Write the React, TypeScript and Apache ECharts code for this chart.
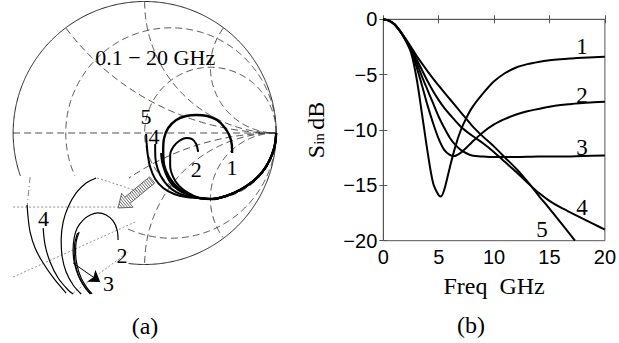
import React, { useEffect, useRef } from "react";
import * as echarts from "echarts";

// ---------------- (b) |S_in| (dB) versus frequency (GHz) ----------------
const curve1 = [[0,0],[0.5,-0.12],[1,-0.45],[1.5,-1.05],[2,-1.9],[2.5,-3.0],[3,-5.3],[3.5,-8.6],[4,-12.0],[4.5,-14.8],[5,-15.9],[5.2,-16.0],[5.5,-15.4],[6,-13.4],[6.5,-11.5],[7,-10.0],[7.5,-8.9],[8,-8.0],[9,-6.7],[10,-5.6],[11,-4.85],[12,-4.35],[13,-4.05],[14,-3.85],[15,-3.7],[16,-3.6],[17,-3.53],[18,-3.47],[19,-3.42],[20,-3.38]];
const curve2 = [[0,0],[0.5,-0.12],[1,-0.45],[1.5,-1.05],[2,-1.85],[2.5,-2.8],[3,-4.3],[3.5,-6.0],[4,-7.8],[4.5,-9.4],[5,-10.8],[5.5,-11.8],[6,-12.25],[6.4,-12.35],[7,-12.05],[7.5,-11.6],[8,-11.1],[9,-10.2],[10,-9.5],[11,-9.0],[12,-8.6],[13,-8.3],[14,-8.1],[15,-7.9],[16,-7.75],[17,-7.65],[18,-7.55],[19,-7.5],[20,-7.45]];
const curve3 = [[0,0],[0.5,-0.12],[1,-0.45],[1.5,-1.05],[2,-1.8],[2.5,-2.7],[3,-3.9],[3.5,-5.2],[4,-6.4],[4.5,-7.6],[5,-8.8],[5.5,-9.8],[6,-10.7],[6.5,-11.35],[7,-11.8],[7.5,-12.1],[8,-12.3],[9,-12.4],[10,-12.45],[12,-12.45],[14,-12.4],[16,-12.4],[18,-12.35],[20,-12.3]];
const curve4 = [[0,0],[0.5,-0.12],[1,-0.45],[1.5,-1.05],[2,-1.78],[2.5,-2.6],[3,-3.6],[3.5,-4.6],[4,-5.6],[4.5,-6.5],[5,-7.3],[5.5,-8.0],[6,-8.6],[7,-9.7],[8,-10.5],[9,-11.2],[10,-12.0],[11,-12.9],[12,-13.8],[13,-14.75],[14,-15.65],[15,-16.4],[16,-17.0],[17,-17.5],[18,-18.0],[19,-18.5],[20,-19.0]];
const curve5 = [[0,0],[0.5,-0.12],[1,-0.45],[1.5,-1.05],[2,-1.75],[2.5,-2.5],[3,-3.3],[3.5,-4.0],[4,-4.7],[5,-6.0],[6,-7.2],[7,-8.4],[8,-9.6],[9,-10.6],[10,-11.5],[11,-12.5],[12,-13.5],[13,-14.65],[14,-15.9],[15,-17.1],[16,-18.35],[17,-19.6],[17.3,-20.0]];
const dbCurves = [curve1, curve2, curve3, curve4, curve5];
const dbLabelText = ["1", "2", "3", "4", "5"];
const dbLabelPos = [[17.93,-2.5],[17.93,-6.84],[17.93,-11.54],[17.93,-16.96],[14.32,-18.95]];
const freqTicks = [0, 5, 10, 15, 20];
const dbTicks = [-20, -15, -10, -5, 0];

// ---------------- (a) Smith chart, reflection coefficient (Re, Im) ----------------
const smithStart = [[1.0,0],[0.996,-0.053],[0.985,-0.114],[0.951,-0.205],[0.894,-0.297],[0.817,-0.373],[0.726,-0.433],[0.62,-0.479],[0.513,-0.502],[0.414,-0.494]];
const smith1 = [[0.323,-0.464],[0.247,-0.411],[0.186,-0.335],[0.148,-0.243],[0.141,-0.129],[0.148,-0.038],[0.179,0.038],[0.24,0.099],[0.316,0.129],[0.392,0.137],[0.475,0.129],[0.551,0.099],[0.605,0.046],[0.643,-0.015],[0.662,-0.084],[0.665,-0.152]];
const smith2 = [[0.331,-0.456],[0.262,-0.403],[0.217,-0.335],[0.194,-0.251],[0.194,-0.167],[0.217,-0.106],[0.262,-0.061],[0.316,-0.038],[0.361,-0.046],[0.392,-0.084],[0.407,-0.144]];
const smith3 = [[0.331,-0.471],[0.255,-0.433],[0.194,-0.373],[0.156,-0.297],[0.133,-0.221],[0.125,-0.152]];
const smith4 = [[0.323,-0.479],[0.24,-0.449],[0.171,-0.395],[0.118,-0.319],[0.087,-0.228],[0.08,-0.144],[0.08,-0.084]];
const smith5 = [[0.316,-0.487],[0.224,-0.464],[0.141,-0.418],[0.08,-0.35],[0.042,-0.259],[0.023,-0.16],[0.015,-0.076],[0.011,-0.008]];
const smithTails = [smith1, smith2, smith3, smith4, smith5];
const smithWidths = [2.4, 2, 2, 2, 2];

// zoomed inset (drawn in the lower left)
const insetA = [[-0.894,-0.548],[-0.886,-0.646],[-0.871,-0.753],[-0.833,-0.875],[-0.772,-0.989],[-0.688,-1.11],[-0.597,-1.217]];
const insetB = [[-0.772,-0.722],[-0.757,-0.852],[-0.719,-0.981],[-0.658,-1.103],[-0.582,-1.194],[-0.544,-1.224]];
const insetC = [[-0.369,-0.342],[-0.445,-0.38],[-0.521,-0.456],[-0.582,-0.563],[-0.62,-0.677],[-0.635,-0.814],[-0.627,-0.943],[-0.597,-1.057],[-0.544,-1.156],[-0.483,-1.224]];
const insetD = [[-0.202,-0.814],[-0.209,-0.738],[-0.24,-0.669],[-0.293,-0.624],[-0.354,-0.608],[-0.414,-0.624],[-0.468,-0.662],[-0.513,-0.722],[-0.536,-0.798],[-0.544,-0.89],[-0.536,-0.981],[-0.506,-1.08],[-0.46,-1.163],[-0.414,-1.224]];
const insetE = [[-0.498,-0.753],[-0.521,-0.829],[-0.525,-0.92],[-0.513,-1.011],[-0.483,-1.103],[-0.437,-1.179],[-0.399,-1.224]];
const insetF = [[-0.51,-0.76],[-0.531,-0.835],[-0.535,-0.922],[-0.524,-1.012],[-0.494,-1.106],[-0.449,-1.181],[-0.41,-1.224]];
const insetCurves = [insetA, insetB, insetC, insetD, insetE, insetF];
const insetArrow = [[-0.544,-0.989],[-0.338,-1.133]];
const insetGuides = [
  [[-1.0,-0.563],[-0.202,-0.563]],
  [[-1.0,-1.095],[-0.072,-0.677]],
  [[-0.544,-1.217],[-0.125,-0.905]],
  [[-0.361,-0.342],[-0.034,-0.449]],
];
const insetDashDot = [[-0.871,-0.335],[-0.894,-0.563]];
const zoomArrow = [0.057, -0.357, -0.202, -0.57]; // tail (re, im), tip (re, im)

const smithLabelText = ["5", "4", "2", "1", "4", "2", "3"];
const smithLabelPos = [[0.011,0.122],[0.072,-0.023],[0.392,-0.274],[0.665,-0.266],[-0.77,-0.649],[-0.173,-0.928],[-0.275,-1.143]];
const smithTitle = "0.1 − 20 GHz";
const smithTitlePos = [0.08, 0.574];

const rCircles = [0.25, 1];
const xArcs = [0.5, 1, 2, -0.5, -1, -2];
const MASK_RE = -0.13;
const MASK_IM = -0.33;

const SERIF = "Liberation Serif";
const SANS = "Liberation Sans";

function circlePts(cx: number, cy: number, r: number, n = 720) {
  const pts: number[][] = [];
  for (let i = 0; i <= n; i++) {
    const a = (2 * Math.PI * i) / n;
    pts.push([cx + r * Math.cos(a), cy + r * Math.sin(a)]);
  }
  return pts;
}
function visible(p: number[]) {
  return p[0] * p[0] + p[1] * p[1] <= 1.0004 && !(p[0] < MASK_RE && p[1] < MASK_IM);
}
function splitVisible(pts: number[][]) {
  const segs: number[][][] = [];
  let cur: number[][] = [];
  for (const p of pts) {
    if (visible(p)) cur.push(p);
    else {
      if (cur.length > 1) segs.push(cur);
      cur = [];
    }
  }
  if (cur.length > 1) segs.push(cur);
  return segs;
}

const minus = (v: number) => (v < 0 ? "\u2212" + Math.abs(v) : String(v));

export default function App() {
  const ref = useRef<HTMLDivElement>(null);
  useEffect(() => {
    document.body.style.margin = "0";
    if (!ref.current) return;
    const chart = echarts.init(ref.current, undefined, { renderer: "svg" });

    const series: any[] = [];
    const gridLine = (data: number[][], style: any) =>
      series.push({
        type: "line", xAxisIndex: 0, yAxisIndex: 0, data, symbol: "none", silent: true,
        lineStyle: style, z: 1,
      });

    // Smith chart grid
    splitVisible(circlePts(0, 0, 1)).forEach((s) => gridLine(s, { color: "#222", width: 1, type: "solid" }));
    const dash = { color: "#3a3a3a", width: 0.9, type: [7, 4] };
    gridLine([[-1, 0], [1, 0]], dash);
    rCircles.forEach((r) => splitVisible(circlePts(r / (1 + r), 0, 1 / (1 + r))).forEach((s) => gridLine(s, dash)));
    xArcs.forEach((x) => splitVisible(circlePts(1, 1 / x, 1 / Math.abs(x))).forEach((s) => gridLine(s, dash)));
    // inset guides
    insetGuides.forEach((g) => gridLine(g, { color: "#777", width: 0.8, type: [2, 2] }));
    gridLine(insetDashDot, { color: "#666", width: 0.8, type: [6, 3, 1, 3] });

    // Smith curves
    smithTails.forEach((t, i) =>
      series.push({
        type: "line", xAxisIndex: 0, yAxisIndex: 0, data: smithStart.concat(t), symbol: "none",
        smooth: 0.3, silent: true, lineStyle: { color: "#000", width: smithWidths[i] }, z: 3,
      })
    );
    insetCurves.forEach((c, i) =>
      series.push({
        type: "line", xAxisIndex: 0, yAxisIndex: 0, data: c, symbol: "none", smooth: 0.3, silent: true,
        lineStyle: { color: "#000", width: 1.2 }, z: 3,
        markLine: i === 0 ? {
          silent: true, symbol: ["none", "arrow"], symbolSize: 11, animation: false,
          label: { show: false },
          lineStyle: { color: "#000", width: 1, type: "solid" },
          data: [[{ coord: insetArrow[0] }, { coord: insetArrow[1] }]],
        } : undefined,
      })
    );

    // hatched zoom arrow
    series.push({
      type: "custom", xAxisIndex: 0, yAxisIndex: 0, silent: true, z: 4,
      encode: { x: [0, 2], y: [1, 3] },
      data: [zoomArrow],
      renderItem: (params: any, api: any) => {
        const a = api.coord([api.value(0), api.value(1)]);
        const b = api.coord([api.value(2), api.value(3)]);
        const dx = b[0] - a[0], dy = b[1] - a[1];
        const L = Math.hypot(dx, dy);
        const ux = dx / L, uy = dy / L, nx = -uy, ny = ux;
        const hw = 4, hh = 9, hl = 12;
        const bx = b[0] - ux * hl, by = b[1] - uy * hl;
        const pts = [
          [a[0] + nx * hw, a[1] + ny * hw], [bx + nx * hw, by + ny * hw], [bx + nx * hh, by + ny * hh],
          [b[0], b[1]], [bx - nx * hh, by - ny * hh], [bx - nx * hw, by - ny * hw], [a[0] - nx * hw, a[1] - ny * hw],
        ];
        const children: any[] = [];
        for (let s = 1.2; s < L - 1; s += 2.2) {
          const cx = a[0] + ux * s, cy = a[1] + uy * s;
          const w = s < L - hl ? hw : (hh * (L - s)) / hl;
          children.push({ type: "line", shape: { x1: cx + nx * w, y1: cy + ny * w, x2: cx - nx * w, y2: cy - ny * w }, style: { stroke: "#444", lineWidth: 0.8 } });
        }
        children.push({ type: "polygon", shape: { points: pts }, style: { fill: "none", stroke: "#444", lineWidth: 0.8 } });
        return { type: "group", children };
      },
    });

    const labelStyle = (size: number) => ({
      show: true, position: "inside", color: "#000", fontFamily: SERIF, fontSize: size,
      fontWeight: "normal", textBorderWidth: 0, opacity: 1,
    });

    // Smith labels
    series.push({
      type: "scatter", xAxisIndex: 0, yAxisIndex: 0, symbolSize: 0, silent: true, z: 5,
      itemStyle: { opacity: 1 },
      data: smithLabelPos.map((p, i) => ({ value: p, label: { formatter: smithLabelText[i] } }))
        .concat([{ value: smithTitlePos, label: { formatter: smithTitle } }]),
      label: labelStyle(22),
    });

    // right plot curves
    dbCurves.forEach((c) =>
      series.push({
        type: "line", xAxisIndex: 1, yAxisIndex: 1, data: c, symbol: "none", smooth: 0.3, silent: true,
        lineStyle: { color: "#000", width: 2 }, z: 3,
      })
    );
    series.push({
      type: "scatter", xAxisIndex: 1, yAxisIndex: 1, symbolSize: 0, silent: true, z: 5,
      itemStyle: { opacity: 1 },
      data: dbLabelPos.map((p, i) => ({ value: p, label: { formatter: dbLabelText[i] } })),
      label: labelStyle(23),
    });

    const axisColor = "#555";
    const tickCommon = { show: true, inside: true, length: 4, lineStyle: { color: axisColor } };

    chart.setOption({
      animation: false,
      grid: [
        { left: 0, top: 1.5, width: 289.3, height: 302.45, show: false },
        { left: 383.3, top: 19.3, width: 221.7, height: 221.4, show: true, borderColor: axisColor, borderWidth: 1, backgroundColor: "transparent" },
      ],
      xAxis: [
        { gridIndex: 0, type: "value", min: -1.1, max: 1.1, show: false },
        {
          gridIndex: 1, type: "value", min: freqTicks[0], max: freqTicks[freqTicks.length - 1], interval: 5,
          axisLine: { show: true, lineStyle: { color: axisColor } }, axisTick: tickCommon, splitLine: { show: false },
          axisLabel: { color: "#000", fontFamily: SANS, fontSize: 20, margin: 6, formatter: minus },
          name: "Freq  GHz", nameLocation: "middle", nameGap: 33,
          nameTextStyle: { color: "#000", fontFamily: SERIF, fontSize: 24 },
        },
        {
          gridIndex: 1, type: "value", position: "top", min: 0, max: 20, interval: 5,
          axisLine: { show: false }, axisTick: tickCommon, axisLabel: { show: false }, splitLine: { show: false },
        },
      ],
      yAxis: [
        { gridIndex: 0, type: "value", min: -1.3, max: 1.0, show: false },
        {
          gridIndex: 1, type: "value", min: dbTicks[0], max: dbTicks[dbTicks.length - 1], interval: 5,
          axisLine: { show: true, lineStyle: { color: axisColor } }, axisTick: tickCommon, splitLine: { show: false },
          axisLabel: { color: "#000", fontFamily: SANS, fontSize: 20, margin: 6, formatter: minus },
          name: "{s|S}{i|in} {s|dB}", nameLocation: "middle", nameGap: 55, nameRotate: 90,
          nameTextStyle: {
            color: "#000",
            rich: {
              s: { fontFamily: SERIF, fontSize: 24, color: "#000", verticalAlign: "bottom" },
              i: { fontFamily: SERIF, fontSize: 15, color: "#000", verticalAlign: "bottom", padding: [0, 0, 2, 0] },
            },
          },
        },
        {
          gridIndex: 1, type: "value", position: "right", min: -20, max: 0, interval: 5,
          axisLine: { show: false }, axisTick: tickCommon, axisLabel: { show: false }, splitLine: { show: false },
        },
      ],
      graphic: [
        { type: "text", x: 145, y: 326, style: { text: "(a)", fontFamily: SERIF, fontSize: 24, fill: "#000", align: "center", verticalAlign: "middle" } },
        { type: "text", x: 471, y: 325, style: { text: "(b)", fontFamily: SERIF, fontSize: 24, fill: "#000", align: "center", verticalAlign: "middle" } },
      ],
      series,
    });
    return () => chart.dispose();
  }, []);
  return <div ref={ref} style={{ width: 619, height: 343 }} />;
}
